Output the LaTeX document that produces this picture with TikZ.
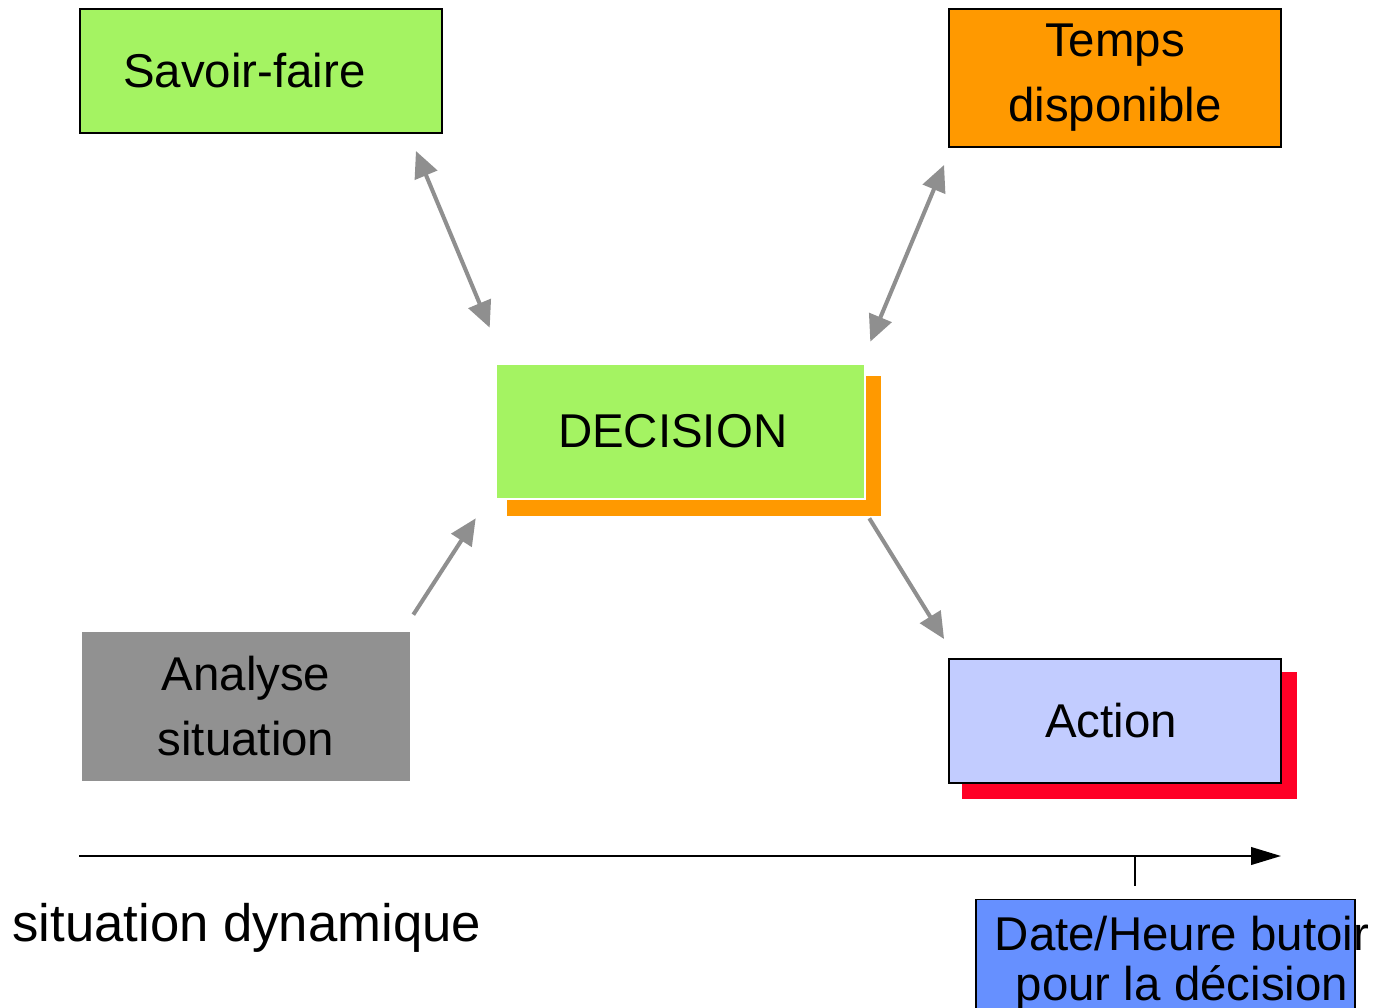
\documentclass[tikz,border=0pt]{standalone}
\usepackage{fontspec}
\setmainfont{Liberation Sans}
\usepackage{xcolor}
\usetikzlibrary{calc, arrows.meta}

\definecolor{vert}{HTML}{A4F362}
\definecolor{orange}{HTML}{FF9900}
\definecolor{gris}{HTML}{919191}
\definecolor{lavande}{HTML}{C2CCFF}
\definecolor{rouge}{HTML}{FF0026}
\definecolor{bleu}{HTML}{6690FF}
\definecolor{fleche}{HTML}{8F8F8F}

\begin{document}
\begin{tikzpicture}[x=0.02cm, y=-0.02cm, font=\fontsize{27}{37}\selectfont]
		\tikzstyle{box} = [draw=black, line width=1.1pt, rectangle, inner sep=0pt, align=center]
		\tikzstyle{flat} = [rectangle, inner sep=0pt, align=center]
		\tikzstyle{arrow} = [draw=fleche, line width=2.3pt, -{Triangle[length=15pt,width=13.5pt]}]
		\tikzstyle{both} = [draw=fleche, line width=2.3pt, {Triangle[length=15pt,width=13.5pt]}-{Triangle[length=15pt,width=13.5pt]}]
		\tikzstyle{axis} = [draw=black, line width=1.1pt, -{Triangle[length=17pt,width=10pt]}]

		\useasboundingbox (0,0) rectangle (1377,1008);

		\node[box, fill=vert, minimum height=2.48cm, inner xsep=0.86cm, text width=5.52cm, align=left]	at (261, 71)	(sf)	{Savoir-faire};
		\node[box, fill=orange, minimum width=6.64cm, minimum height=2.76cm]	at (1115, 78)	(tp)	{Temps\\disponible};

		\node[flat, fill=orange, minimum width=7.48cm, minimum height=2.8cm]	at (694, 446)	(decs)	{};
		\node[flat, draw=white, line width=1.5pt, fill=vert, minimum height=2.7cm, inner xsep=1.24cm, text width=4.9cm, align=left]	at (680.5, 431.5)	(dec)	{DECISION};

		\node[flat, fill=gris, minimum width=6.56cm, minimum height=2.98cm]	at (246, 706.5)	(an)	{Analyse\\situation};

		\node[flat, fill=rouge, minimum width=6.7cm, minimum height=2.54cm]	at (1129.5, 735.5)	(acts)	{};
		\node[box, fill=lavande, minimum height=2.48cm, inner xsep=1.92cm, text width=2.8cm, align=left]	at (1115, 721)	(act)	{Action};

		\node[box, fill=bleu, line width=0.8pt, minimum width=7.58cm, minimum height=2.7cm, anchor=north]	at (1165.5, 899)	(bt)	{};
		\node[flat, font=\fontsize{27}{28}\selectfont, anchor=base]	at (1182, 1000)	(btx)	{Date/Heure butoir\\pour la décision};

		\node[flat, font=\fontsize{30}{36}\selectfont, anchor=base west]	at (12, 941)	(sd)	{situation dynamique};

		\coordinate (a0) at (79, 856);
		\coordinate (a1) at (1281, 856);
		\coordinate (t0) at (1135, 856);
		\coordinate (t1) at (1135, 886);

		\draw [both] ($(sf.south east)+(-27,17)$) -- ($(dec.north west)+(-5,-35)$);
		\draw [both] ($(tp.south west)+(-4,17)$) -- ($(dec.north east)+(4,-21)$);
		\draw [arrow] ($(an.north east)+(3,-17)$) -- ($(dec.south west)+(-19,18)$);
		\draw [arrow] ($(dec.south east)+(3,18)$) -- ($(act.north west)+(-4,-19)$);

		\draw [axis] (a0) -- (a1);
		\draw [black, line width=1.1pt] (t0) -- (t1);
	\end{tikzpicture}
\end{document}
